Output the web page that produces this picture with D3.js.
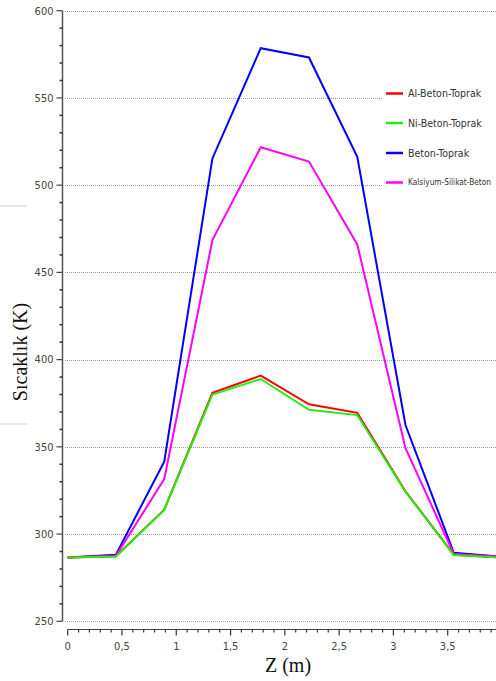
<!DOCTYPE html>
<html>
<head>
<meta charset="utf-8">
<script src="https://cdn.jsdelivr.net/npm/d3@7"></script>
<style>
  body { margin: 0; background: #fff; overflow: hidden; }
  svg { display: block; }
</style>
</head>
<body>
<div id="chart"></div>
<script>
// Data
const zValues = [0, 0.444, 0.889, 1.333, 1.778, 2.222, 2.667, 3.111, 3.556, 4.0];
const alBetonToprak = [286.5, 287.3, 314, 381, 390.8, 374.4, 369.5, 324.5, 288.2, 286.5];
const niBetonToprak = [286.5, 287.2, 313.8, 380, 388.9, 371.2, 368.2, 324.3, 288, 286.5];
const betonToprak = [286.6, 288.2, 341.5, 515.3, 578.5, 573.2, 516.2, 362.5, 289.3, 287];
const kalsiyumSilikatBeton = [286.5, 287.6, 331.5, 468.5, 521.7, 513.5, 466, 349.2, 288.6, 287];

const seriesNames = ["Al-Beton-Toprak", "Ni-Beton-Toprak", "Beton-Toprak", "Kalsiyum-Silikat-Beton"];
const seriesColors = ["#ff0000", "#22ee11", "#0000ff", "#ff00ff"];
const xTickLabels = ["0", "0,5", "1", "1,5", "2", "2,5", "3", "3,5"];
const yTicks = [250, 300, 350, 400, 450, 500, 550, 600];

const width = 496;
const height = 681;
const tickFont = "'Liberation Sans Narrow', 'DejaVu Sans Condensed', sans-serif";

const svg = d3.select("#chart")
    .append("svg")
    .attr("width", width)
    .attr("height", height);

// Scales
const x = d3.scaleLinear().domain([0, 4]).range([67.7, 502]);
const y = d3.scaleLinear().domain([250, 600]).range([621.3, 10.7]);

// Stray crop lines on the left edge
svg.selectAll(".stray")
    .data([206, 424])
    .join("line")
    .attr("x1", 0).attr("x2", 27)
    .attr("y1", d => d).attr("y2", d => d)
    .attr("stroke", "#d0d0d0")
    .attr("stroke-width", 1);

// Grid lines (dotted)
svg.append("g")
    .selectAll("line")
    .data(yTicks)
    .join("line")
    .attr("x1", 65)
    .attr("x2", width)
    .attr("y1", d => Math.round(y(d)) + 0.5)
    .attr("y2", d => Math.round(y(d)) + 0.5)
    .attr("stroke", "#9a9a9a")
    .attr("stroke-width", 1)
    .attr("stroke-dasharray", "1,1");

// Y axis
const yAxis = svg.append("g")
    .attr("transform", "translate(62.5,0)");

yAxis.append("line")
    .attr("y1", y(600)).attr("y2", y(250))
    .attr("stroke", "#555").attr("stroke-width", 1.5);

const yMinor = d3.range(250, 601, 10).filter(v => v % 50 !== 0);
yAxis.selectAll(".minor")
    .data(yMinor)
    .join("line")
    .attr("x1", -3).attr("x2", 0)
    .attr("y1", d => y(d)).attr("y2", d => y(d))
    .attr("stroke", "#333").attr("stroke-width", 1.5);

yAxis.selectAll(".major")
    .data(yTicks)
    .join("line")
    .attr("x1", -6).attr("x2", 0)
    .attr("y1", d => y(d)).attr("y2", d => y(d))
    .attr("stroke", "#444").attr("stroke-width", 1.2);

yAxis.selectAll("text")
    .data(yTicks)
    .join("text")
    .attr("x", -9)
    .attr("y", d => y(d))
    .attr("dy", "0.35em")
    .attr("text-anchor", "end")
    .style("font-family", tickFont)
    .style("font-size", "11px")
    .style("fill", "#444")
    .text(d => d);

// X axis
const xAxisY = 629.5;
const xAxis = svg.append("g");

xAxis.append("line")
    .attr("x1", x(0)).attr("x2", width)
    .attr("y1", xAxisY).attr("y2", xAxisY)
    .attr("stroke", "#444").attr("stroke-width", 1.2);

const xMinor = d3.range(0, 40).map(i => i / 10).filter((v, i) => i % 5 !== 0);
xAxis.selectAll(".minor")
    .data(xMinor)
    .join("line")
    .attr("x1", d => x(d)).attr("x2", d => x(d))
    .attr("y1", xAxisY).attr("y2", xAxisY + 3)
    .attr("stroke", "#333").attr("stroke-width", 1.2);

xAxis.selectAll(".major")
    .data(xTickLabels)
    .join("line")
    .attr("x1", (d, i) => x(i * 0.5)).attr("x2", (d, i) => x(i * 0.5))
    .attr("y1", xAxisY).attr("y2", xAxisY + 6)
    .attr("stroke", "#333").attr("stroke-width", 1.2);

xAxis.selectAll("text")
    .data(xTickLabels)
    .join("text")
    .attr("x", (d, i) => x(i * 0.5))
    .attr("y", 650)
    .attr("text-anchor", "middle")
    .style("font-family", tickFont)
    .style("font-size", "11px")
    .style("fill", "#444")
    .text(d => d);

// Axis titles
svg.append("text")
    .attr("x", 288)
    .attr("y", 672)
    .attr("text-anchor", "middle")
    .style("font-family", "'Liberation Serif', 'DejaVu Serif', serif")
    .style("font-size", "20px")
    .style("fill", "#111")
    .text("Z (m)");

svg.append("text")
    .attr("transform", "translate(27,352) rotate(-90)")
    .attr("text-anchor", "middle")
    .style("font-family", "'Liberation Serif', 'DejaVu Serif', serif")
    .style("font-size", "20px")
    .style("fill", "#111")
    .text("Sıcaklık (K)");

// Lines
const allSeries = [alBetonToprak, niBetonToprak, betonToprak, kalsiyumSilikatBeton];
const line = d3.line()
    .x((d, i) => x(zValues[i]))
    .y(d => y(d));

// green drawn over red, as in the reference
const drawOrder = [2, 3, 0, 1];
svg.append("g")
    .selectAll("path")
    .data(drawOrder)
    .join("path")
    .attr("d", k => line(allSeries[k]))
    .attr("fill", "none")
    .attr("stroke", k => seriesColors[k])
    .attr("stroke-width", 2)
    .attr("stroke-linejoin", "miter");

// Legend
const legend = svg.append("g");
legend.append("rect")
    .attr("x", 383).attr("y", 72)
    .attr("width", width - 383).attr("height", 128)
    .attr("fill", "#fff");

const legendY = [93.5, 123, 153, 182.5];
const items = legend.selectAll(".item")
    .data(seriesNames)
    .join("g")
    .attr("transform", (d, i) => `translate(0,${legendY[i]})`);

items.append("line")
    .attr("x1", 386).attr("x2", 403)
    .attr("stroke", (d, i) => seriesColors[i])
    .attr("stroke-width", 2.5);

items.append("text")
    .attr("x", 408)
    .attr("dy", "0.35em")
    .style("font-family", tickFont)
    .style("font-size", "10.5px")
    .style("fill", "#333")
    .text(d => d)
    .each(function () {
        // shrink long names until they fit inside the window
        let size = 10.5;
        while (this.getComputedTextLength() > 85 && size > 6) {
            size -= 0.25;
            d3.select(this).style("font-size", size + "px");
        }
    });
</script>
</body>
</html>
